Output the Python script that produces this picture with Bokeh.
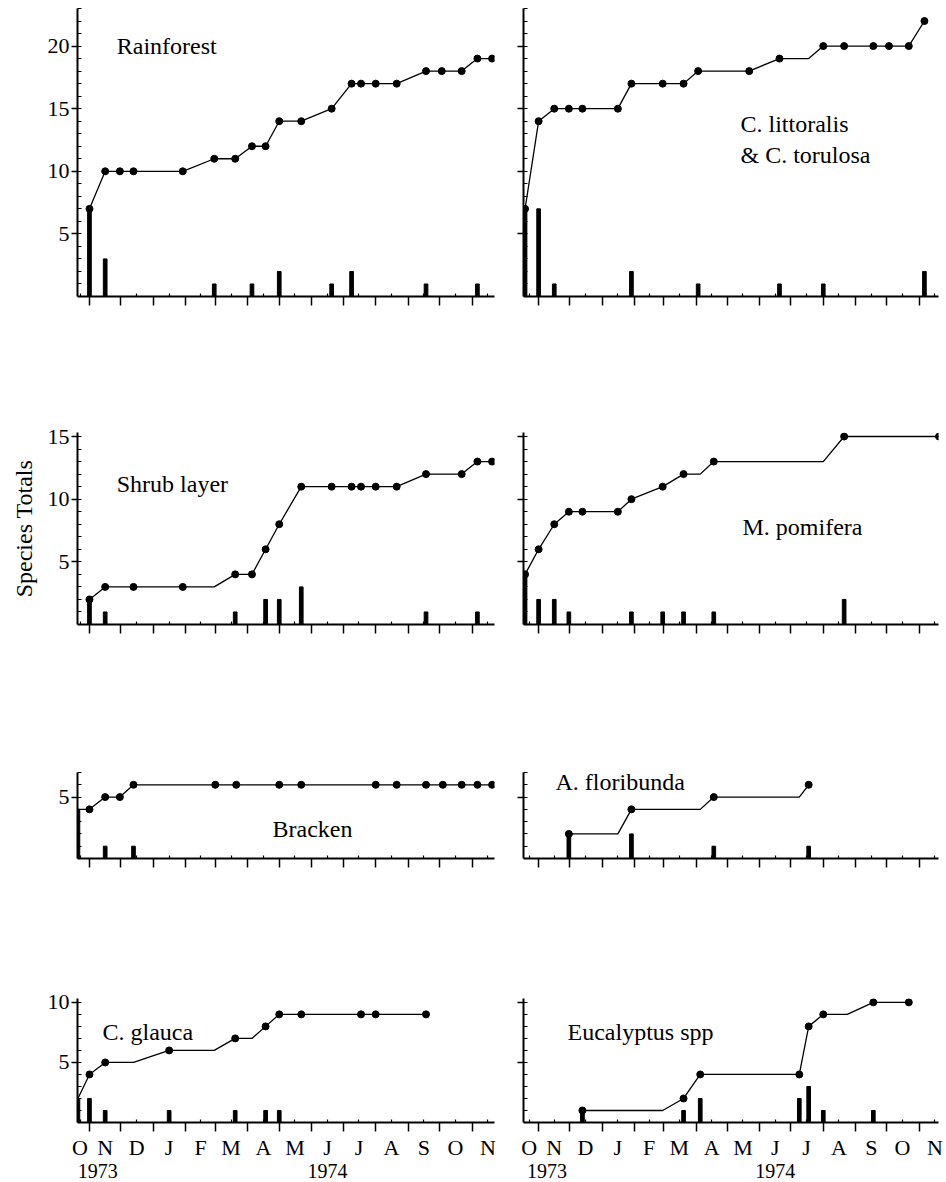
import pandas as pd
from bokeh.plotting import figure
from bokeh.models import Range1d, LinearAxis, FixedTicker, Label
from bokeh.layouts import column, row
from bokeh.embed import file_html
from bokeh.resources import INLINE

ORIGIN = pd.Timestamp("1973-10-01")
FONT = "Liberation Serif"

# ---------------- data ----------------
# cumulative species totals at each sampling date; *_marked: 1 = drawn with a dot
rain_dates = ["1973-11-01", "1973-11-16", "1973-11-30", "1973-12-13", "1974-01-29", "1974-02-28",
              "1974-03-20", "1974-04-05", "1974-04-18", "1974-05-01", "1974-05-22", "1974-06-20",
              "1974-07-09", "1974-07-18", "1974-08-01", "1974-08-21", "1974-09-18", "1974-10-03",
              "1974-10-22", "1974-11-06", "1974-11-20"]
rain_totals = [7, 10, 10, 10, 10, 11, 11, 12, 12, 14, 14, 15, 17, 17, 17, 17, 18, 18, 18, 19, 19]
rain_marked = [1] * 21
rain_new_dates = ["1973-11-01", "1973-11-16", "1974-02-28", "1974-04-05", "1974-05-01",
                  "1974-06-20", "1974-07-09", "1974-09-18", "1974-11-06"]
rain_new = [7, 3, 1, 1, 2, 1, 2, 1, 1]

cas_dates = ["1973-10-19", "1973-11-01", "1973-11-16", "1973-11-30", "1973-12-13", "1974-01-16",
             "1974-01-29", "1974-02-28", "1974-03-20", "1974-04-03", "1974-05-22", "1974-06-20",
             "1974-07-18", "1974-08-01", "1974-08-21", "1974-09-18", "1974-10-03", "1974-10-22",
             "1974-11-06"]
cas_totals = [7, 14, 15, 15, 15, 15, 17, 17, 17, 18, 18, 19, 19, 20, 20, 20, 20, 20, 22]
cas_marked = [1, 1, 1, 1, 1, 1, 1, 1, 1, 1, 1, 1, 0, 1, 1, 1, 1, 1, 1]
cas_new_dates = ["1973-10-19", "1973-11-01", "1973-11-16", "1974-01-29", "1974-04-03",
                 "1974-06-20", "1974-08-01", "1974-11-06"]
cas_new = [7, 7, 1, 2, 1, 1, 1, 2]

shrub_dates = ["1973-11-01", "1973-11-16", "1973-12-13", "1974-01-29", "1974-02-28", "1974-03-20",
               "1974-04-05", "1974-04-18", "1974-05-01", "1974-05-22", "1974-06-20", "1974-07-09",
               "1974-07-18", "1974-08-01", "1974-08-21", "1974-09-18", "1974-10-22", "1974-11-06",
               "1974-11-20"]
shrub_totals = [2, 3, 3, 3, 3, 4, 4, 6, 8, 11, 11, 11, 11, 11, 11, 12, 12, 13, 13]
shrub_marked = [1, 1, 1, 1, 0, 1, 1, 1, 1, 1, 1, 1, 1, 1, 1, 1, 1, 1, 1]
shrub_new_dates = ["1973-11-01", "1973-11-16", "1974-03-20", "1974-04-18", "1974-05-01",
                   "1974-05-22", "1974-09-18", "1974-11-06"]
shrub_new = [2, 1, 1, 2, 2, 3, 1, 1]

pom_dates = ["1973-10-19", "1973-11-01", "1973-11-16", "1973-11-30", "1973-12-13", "1974-01-16",
             "1974-01-29", "1974-02-28", "1974-03-20", "1974-04-05", "1974-04-18", "1974-08-01",
             "1974-08-21", "1974-11-20"]
pom_totals = [4, 6, 8, 9, 9, 9, 10, 11, 12, 12, 13, 13, 15, 15]
pom_marked = [1, 1, 1, 1, 1, 1, 1, 1, 1, 0, 1, 0, 1, 1]
pom_new_dates = ["1973-10-19", "1973-11-01", "1973-11-16", "1973-11-30", "1974-01-29",
                 "1974-02-28", "1974-03-20", "1974-04-18", "1974-08-21"]
pom_new = [4, 2, 2, 1, 1, 1, 1, 1, 2]

brk_dates = ["1973-10-21", "1973-11-01", "1973-11-16", "1973-11-30", "1973-12-13", "1974-03-01",
             "1974-03-21", "1974-05-01", "1974-05-22", "1974-08-01", "1974-08-21", "1974-09-18",
             "1974-10-04", "1974-10-22", "1974-11-06", "1974-11-20"]
brk_totals = [4, 4, 5, 5, 6, 6, 6, 6, 6, 6, 6, 6, 6, 6, 6, 6]
brk_marked = [0, 1, 1, 1, 1, 1, 1, 1, 1, 1, 1, 1, 1, 1, 1, 1]
brk_new_dates = ["1973-10-21", "1973-11-16", "1973-12-13"]
brk_new = [4, 1, 1]

flo_dates = ["1973-11-30", "1974-01-16", "1974-01-29", "1974-04-05", "1974-04-18", "1974-07-09",
             "1974-07-18"]
flo_totals = [2, 2, 4, 4, 5, 5, 6]
flo_marked = [1, 0, 1, 0, 1, 0, 1]
flo_new_dates = ["1973-11-30", "1974-01-29", "1974-04-18", "1974-07-18"]
flo_new = [2, 2, 1, 1]

gla_dates = ["1973-10-21", "1973-11-01", "1973-11-16", "1973-12-13", "1974-01-16", "1974-02-28",
             "1974-03-20", "1974-04-05", "1974-04-18", "1974-05-01", "1974-05-22", "1974-07-18",
             "1974-08-01", "1974-09-18"]
gla_totals = [2, 4, 5, 5, 6, 6, 7, 7, 8, 9, 9, 9, 9, 9]
gla_marked = [0, 1, 1, 0, 1, 0, 1, 0, 1, 1, 1, 1, 1, 1]
gla_new_dates = ["1973-10-21", "1973-11-01", "1973-11-16", "1974-01-16", "1974-03-20",
                 "1974-04-18", "1974-05-01"]
gla_new = [2, 2, 1, 1, 1, 1, 1]

euc_dates = ["1973-12-13", "1974-02-28", "1974-03-20", "1974-04-05", "1974-07-09", "1974-07-18",
             "1974-08-01", "1974-08-24", "1974-09-18", "1974-10-22"]
euc_totals = [1, 1, 2, 4, 4, 8, 9, 9, 10, 10]
euc_marked = [1, 0, 1, 1, 1, 1, 1, 0, 1, 1]
euc_new_dates = ["1973-12-13", "1974-03-20", "1974-04-05", "1974-07-09", "1974-07-18",
                 "1974-08-01", "1974-09-18"]
euc_new = [1, 1, 2, 2, 3, 1, 1]

month_letters = ["O", "N", "D", "J", "F", "M", "A", "M", "J", "J", "A", "S", "O", "N"]
year_labels = ["1973", "1974"]
y_axis_title = "Species Totals"

# ---------------- layout constants ----------------
def to_days(dates):
    return [(pd.Timestamp(d) - ORIGIN).days for d in dates]

starts = [(d - ORIGIN).days for d in pd.date_range("1973-10-01", "1974-12-01", freq="MS")]
boundaries = starts[1:-1]
label_pos = [int((a + b) // 2) for a, b in zip(starts[:-1], starts[1:])]
label_pos[0] = 22
year_pos = [39, 258]

# ymax: last minor tick; ytop: range end (a little headroom so top dots are not clipped)
ROWS = [
    dict(ymax=23, ytop=23.0, majors=[5, 10, 15, 20], top=8, frame=288, bottom=84),
    dict(ymax=15, ytop=15.32, majors=[5, 10, 15], top=52, frame=192, bottom=76),
    dict(ymax=7, ytop=7.0, majors=[5], top=72, frame=86, bottom=82),
    dict(ymax=10, ytop=10.32, majors=[5, 10], top=58, frame=128, bottom=54),
]
COLS = [
    dict(width=500, left=77, right=6, x0=19.6, x1=417.3),
    dict(width=446, left=23, right=8, x0=16.5, x1=414.5),
]

PANELS = [
    (0, 0, rain_dates, rain_totals, rain_marked, rain_new_dates, rain_new, [("Rainforest", 57, 20.0)]),
    (0, 1, cas_dates, cas_totals, cas_marked, cas_new_dates, cas_new,
     [("C. littoralis", 224.6, 13.74), ("& C. torulosa", 224.6, 11.34)]),
    (1, 0, shrub_dates, shrub_totals, shrub_marked, shrub_new_dates, shrub_new, [("Shrub layer", 57, 11.25)]),
    (1, 1, pom_dates, pom_totals, pom_marked, pom_new_dates, pom_new, [("M. pomifera", 226.5, 7.77)]),
    (2, 0, brk_dates, brk_totals, brk_marked, brk_new_dates, brk_new, [("Bracken", 205.6, 2.42)]),
    (2, 1, flo_dates, flo_totals, flo_marked, flo_new_dates, flo_new, [("A. floribunda", 47.2, 6.21)]),
    (3, 0, gla_dates, gla_totals, gla_marked, gla_new_dates, gla_new, [("C. glauca", 43.4, 7.52)]),
    (3, 1, euc_dates, euc_totals, euc_marked, euc_new_dates, euc_new, [("Eucalyptus spp", 58.7, 7.52)]),
]


def make_panel(r, c, dates, totals, marked, new_dates, new, names):
    rg, cg = ROWS[r], COLS[c]
    height = rg["top"] + rg["frame"] + rg["bottom"]
    p = figure(width=cg["width"], height=height, title=None,
               x_range=Range1d(cg["x0"], cg["x1"]), y_range=Range1d(0, rg["ytop"]),
               min_border_left=cg["left"], min_border_right=cg["right"],
               min_border_top=rg["top"], min_border_bottom=rg["bottom"],
               output_backend="svg", toolbar_location=None)
    p.xgrid.visible = False
    p.ygrid.visible = False
    p.outline_line_color = None
    p.background_fill_color = "white"
    p.border_fill_color = "white"

    x = to_days(dates)
    p.vbar(x=to_days(new_dates), top=new, bottom=0, width=3.5, color="black")
    p.line(x, totals, line_width=1.3, color="black")
    xd = [xi for xi, m in zip(x, marked) if m]
    yd = [yi for yi, m in zip(totals, marked) if m]
    p.scatter(xd, yd, size=7, color="black")

    # x axis: month boundaries as long outward ticks, mid-month small inward ticks (labels there)
    ax = p.xaxis[0]
    ax.ticker = FixedTicker(ticks=label_pos, minor_ticks=boundaries)
    bottom_row = (r == len(ROWS) - 1)
    ax.major_label_overrides = {k: (lab if bottom_row else "") for k, lab in zip(label_pos, month_letters)}
    ax.major_tick_in = 3
    ax.major_tick_out = 0
    ax.minor_tick_in = 0
    ax.minor_tick_out = 9
    ax.axis_line_width = 2
    ax.axis_line_color = "black"
    ax.major_tick_line_width = 1.2
    ax.minor_tick_line_width = 1.5
    ax.major_tick_line_color = "black"
    ax.minor_tick_line_color = "black"
    ax.major_label_standoff = 3
    ax.major_label_text_font = FONT
    ax.major_label_text_font_size = "22px"
    ax.major_label_text_color = "black"

    if bottom_row:
        yr = LinearAxis(ticker=FixedTicker(ticks=year_pos),
                        major_label_overrides=dict(zip(year_pos, year_labels)),
                        axis_line_color=None, major_tick_line_color=None, minor_tick_line_color=None,
                        major_tick_in=0, major_tick_out=0, major_label_standoff=1,
                        major_label_text_font=FONT, major_label_text_font_size="20px",
                        major_label_text_color="black")
        p.add_layout(yr, "below")

    ay = p.yaxis[0]
    ay.ticker = FixedTicker(ticks=rg["majors"], minor_ticks=list(range(1, rg["ymax"] + 1)))
    if c == 1:
        ay.major_label_overrides = {k: "" for k in rg["majors"]}
    ay.major_tick_out = 6
    ay.major_tick_in = 0
    ay.minor_tick_out = 0
    ay.minor_tick_in = 4
    ay.axis_line_width = 2
    ay.axis_line_color = "black"
    ay.major_tick_line_width = 1.5
    ay.minor_tick_line_width = 1.2
    ay.major_tick_line_color = "black"
    ay.minor_tick_line_color = "black"
    ay.major_label_standoff = 2
    ay.major_label_text_font = FONT
    ay.major_label_text_font_size = "22px"
    ay.major_label_text_color = "black"
    if r == 1 and c == 0:
        ay.axis_label = y_axis_title
        ay.axis_label_text_font = FONT
        ay.axis_label_text_font_size = "24px"
        ay.axis_label_text_font_style = "normal"
        ay.axis_label_text_color = "black"
        ay.axis_label_standoff = 8

    for text, lx, ly in names:
        p.add_layout(Label(x=lx, y=ly, text=text, text_font=FONT, text_font_size="24px",
                           text_align="left", text_baseline="alphabetic", text_color="black"))
    return p


figs = {}
for spec in PANELS:
    figs[(spec[0], spec[1])] = make_panel(*spec)

layout = column(*[row(figs[(r, 0)], figs[(r, 1)]) for r in range(len(ROWS))])

open("out.html", "w").write(file_html(layout, INLINE))
